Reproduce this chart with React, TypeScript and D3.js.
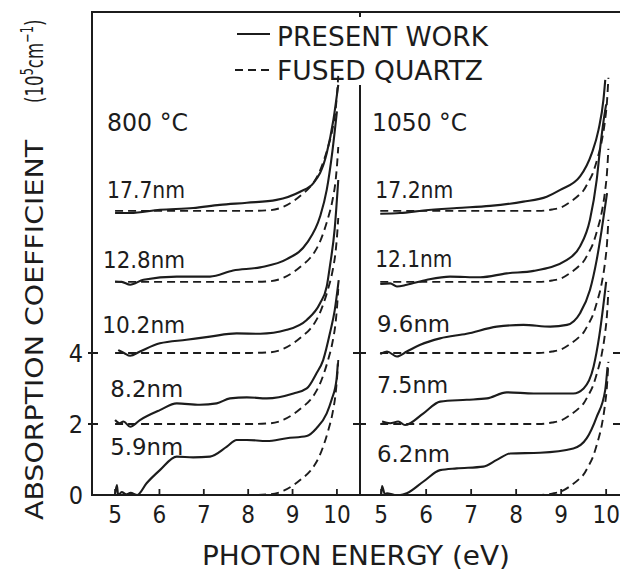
import { useEffect, useRef } from "react";
import * as d3 from "d3";

const FONT = "'Liberation Sans Narrow', 'DejaVu Sans Condensed', Roboto, sans-serif";
const INK = "#1c1c1c";

// vertical offset of each film's curve (10^5 cm^-1)
const offsets = [0, 2, 4, 6, 8];
const yTicks = [0, 2, 4];
const xTicks = [5, 6, 7, 8, 9, 10];

// 800 C panel
const leftLabels = ["5.9nm", "8.2nm", "10.2nm", "12.8nm", "17.7nm"];
const leftLabelE = [4.89, 4.89, 4.71, 4.73, 4.82];
const leftLabelV = [1.13, 2.76, 4.56, 6.39, 8.36];
const leftLabelW = [73, 73, 83, 82, 78];
const leftEnergy = [
  [5.0, 5.04, 5.07, 5.15, 5.25, 5.35, 5.5, 5.71, 6.01, 6.39, 6.76, 7.14, 7.52, 7.74, 7.97, 8.42, 8.87, 9.32, 9.54, 9.77, 9.88, 9.99, 10.02],
  [5.0, 5.1, 5.19, 5.34, 5.56, 6.01, 6.39, 6.91, 7.29, 7.59, 7.97, 8.42, 9.02, 9.32, 9.54, 9.69, 9.85, 9.95, 10.04],
  [5.07, 5.2, 5.34, 5.56, 6.01, 6.61, 7.14, 7.74, 8.27, 8.87, 9.32, 9.62, 9.77, 9.84, 9.95, 10.03],
  [5.0, 5.15, 5.34, 5.64, 6.39, 7.14, 7.66, 8.27, 8.87, 9.32, 9.62, 9.77, 9.9, 10.0],
  [5.0, 5.34, 6.01, 6.76, 7.36, 7.97, 8.64, 9.17, 9.47, 9.77, 9.92, 10.03],
];
const leftAbs = [
  [0, 0.28, 0, 0.08, 0.02, 0.06, 0, 0.33, 0.7, 1.08, 1.06, 1.08, 1.36, 1.55, 1.55, 1.52, 1.6, 1.66, 1.88, 2.3, 2.68, 3.24, 3.7],
  [0.11, 0.02, 0.07, -0.08, 0.11, 0.39, 0.58, 0.54, 0.58, 0.72, 0.75, 0.72, 0.86, 1.0, 1.43, 1.8, 2.6, 3.2, 4.05],
  [0.08, 0.0, -0.08, 0.04, 0.27, 0.37, 0.46, 0.55, 0.54, 0.65, 0.93, 1.4, 1.87, 2.43, 3.5, 4.87],
  [0.01, 0.0, -0.08, 0.06, 0.15, 0.15, 0.32, 0.41, 0.64, 1.09, 1.84, 2.59, 3.7, 4.8],
  [-0.06, -0.06, 0.03, 0.08, 0.17, 0.23, 0.31, 0.54, 0.78, 1.62, 2.56, 3.55],
];
const leftQuartzE = [5.0, 8.0, 8.5, 8.8, 9.0, 9.2, 9.4, 9.5, 9.6, 9.7, 9.8, 9.9, 9.97, 10.0, 10.03];
const leftQuartzV = [0, 0, 0.02, 0.12, 0.26, 0.45, 0.68, 0.85, 1.08, 1.4, 1.8, 2.3, 2.85, 3.25, 3.8];

// 1050 C panel
const rightLabels = ["6.2nm", "7.5nm", "9.6nm", "12.1nm", "17.2nm"];
const rightLabelE = [4.91, 4.91, 4.91, 4.87, 4.87];
const rightLabelV = [0.93, 2.87, 4.59, 6.42, 8.36];
const rightLabelW = [73, 71, 73, 77, 78];
const rightEnergy = [
  [5.0, 5.02, 5.08, 5.13, 5.3, 5.42, 5.57, 5.94, 6.31, 6.68, 7.27, 7.57, 7.87, 8.53, 9.27, 9.57, 9.79, 9.98, 10.03],
  [5.02, 5.2, 5.38, 5.53, 5.94, 6.31, 6.9, 7.35, 7.79, 8.39, 9.27, 9.5, 9.72, 9.85, 10.0],
  [4.98, 5.13, 5.35, 5.57, 5.87, 6.31, 6.9, 7.57, 8.16, 8.76, 9.13, 9.42, 9.64, 9.79, 9.9, 10.02],
  [4.98, 5.2, 5.35, 5.57, 6.02, 6.53, 7.2, 7.79, 8.39, 9.13, 9.42, 9.64, 9.79, 9.87, 9.95, 10.0],
  [4.98, 5.42, 5.94, 6.68, 7.42, 8.16, 8.68, 8.98, 9.42, 9.68, 9.83, 9.94, 9.98],
];
const rightAbs = [
  [0, 0.25, 0.03, 0.05, 0.0, 0.0, 0.05, 0.38, 0.7, 0.75, 0.8, 0.99, 1.17, 1.19, 1.31, 1.6, 2.2, 2.96, 3.6],
  [0.07, 0.02, 0.07, -0.03, 0.3, 0.63, 0.68, 0.72, 0.89, 0.86, 0.86, 1.0, 1.61, 2.5, 4.0],
  [-0.03, 0.04, -0.1, 0.04, 0.23, 0.41, 0.54, 0.74, 0.79, 0.74, 0.79, 1.12, 1.77, 2.62, 3.46, 4.5],
  [-0.06, -0.04, -0.13, -0.08, 0.06, 0.15, 0.13, 0.24, 0.31, 0.62, 1.0, 1.75, 2.87, 3.81, 4.6, 5.0],
  [-0.08, -0.06, 0.01, 0.08, 0.14, 0.26, 0.4, 0.59, 0.97, 1.62, 2.28, 3.13, 3.69],
];
const rightQuartzE = [4.98, 8.5, 8.8, 9.0, 9.2, 9.4, 9.5, 9.6, 9.7, 9.8, 9.9, 9.97, 10.02, 10.05];
const rightQuartzV = [0, 0, 0.04, 0.1, 0.25, 0.45, 0.58, 0.8, 1.05, 1.45, 1.95, 2.5, 3.1, 3.75];

const App = () => {
  const svgRef = useRef<SVGSVGElement>(null);

  useEffect(() => {
    const svg = d3.select(svgRef.current);
    svg.selectAll("*").remove();

    const y = d3.scaleLinear().domain([0, 13.6]).range([495, 12]);
    const xLeft = d3.scaleLinear().domain([4.48, 10.52]).range([92, 360]);
    const xRight = d3.scaleLinear().domain([4.53, 10.33]).range([360, 621]);

    const txt = (g, s, x, yy, size, len?, anchor = "start") => {
      const t = g
        .append("text")
        .attr("x", x)
        .attr("y", yy)
        .attr("font-size", size)
        .attr("font-family", FONT)
        .attr("fill", INK)
        .attr("text-anchor", anchor)
        .text(s);
      if (len) t.attr("textLength", len).attr("lengthAdjust", "spacingAndGlyphs");
      return t;
    };

    // frame
    const frame = svg.append("g").attr("fill", "none").attr("stroke", INK).attr("stroke-width", 2);
    frame.append("path").attr("d", `M92,${y(0)}V12H640`);
    frame.append("path").attr("d", `M91,${y(0)}H640`);
    frame.append("path").attr("d", `M360,${y(0)}V85M360,12V17`);
    frame.append("path").attr("d", `M621,12V${y(0)}`);

    // y ticks on frame, divider and right frame
    yTicks.filter((d) => d > 0).forEach((d) => {
      frame.append("path").attr("d", `M88,${y(d)}H98M353,${y(d)}H366M613,${y(d)}H628`);
    });

    yTicks.forEach((d) => {
      txt(svg, String(d), 83, y(d) + 9, 25, null, "end");
    });

    const panels = [
      { x: xLeft, energy: leftEnergy, abs: leftAbs, qE: leftQuartzE, qV: leftQuartzV,
        labels: leftLabels, lE: leftLabelE, lV: leftLabelV, lW: leftLabelW },
      { x: xRight, energy: rightEnergy, abs: rightAbs, qE: rightQuartzE, qV: rightQuartzV,
        labels: rightLabels, lE: rightLabelE, lV: rightLabelV, lW: rightLabelW },
    ];

    panels.forEach((p) => {
      const g = svg.append("g");
      // x ticks + labels
      xTicks.forEach((t) => {
        g.append("line")
          .attr("x1", p.x(t)).attr("x2", p.x(t))
          .attr("y1", y(0)).attr("y2", y(0) - 6)
          .attr("stroke", INK).attr("stroke-width", 1.8);
        txt(g, String(t), p.x(t), 523, 24, null, "middle");
      });

      const line = d3.line<[number, number]>()
        .x((d) => p.x(d[0]))
        .y((d) => y(d[1]))
        .curve(d3.curveMonotoneX);

      offsets.forEach((off, i) => {
        const quartz = p.qE.map((e, j) => [e, p.qV[j] + off] as [number, number]);
        g.append("path")
          .datum(quartz)
          .attr("fill", "none")
          .attr("stroke", INK)
          .attr("stroke-width", 1.9)
          .attr("stroke-dasharray", "8,5")
          .attr("d", line);

        const film = p.energy[i].map((e, j) => [e, p.abs[i][j] + off] as [number, number]);
        g.append("path")
          .datum(film)
          .attr("fill", "none")
          .attr("stroke", INK)
          .attr("stroke-width", 2.1)
          .attr("stroke-linejoin", "round")
          .attr("d", line);

        txt(g, p.labels[i], p.x(p.lE[i]), y(p.lV[i]), 23, p.lW[i]);
      });
    });

    // temperature labels
    txt(svg, "800 °C", 107, 131, 25, 81);
    txt(svg, "1050 °C", 372, 131, 25, 95);

    // legend
    svg.append("line").attr("x1", 237).attr("x2", 270).attr("y1", 34).attr("y2", 34)
      .attr("stroke", INK).attr("stroke-width", 2);
    svg.append("line").attr("x1", 235).attr("x2", 270).attr("y1", 70).attr("y2", 70)
      .attr("stroke", INK).attr("stroke-width", 2).attr("stroke-dasharray", "8,5");
    txt(svg, "PRESENT  WORK", 277, 46, 27, 211);
    txt(svg, "FUSED  QUARTZ", 277, 80, 26, 206);

    // axis titles
    txt(svg, "PHOTON  ENERGY  (eV)", 202, 565, 26, 308);
    txt(svg, "ABSORPTION  COEFFICIENT", 0, 0, 25, 380).attr("transform", "translate(43,520) rotate(-90)");
    const unit = txt(svg, "", 0, 0, 25).attr("transform", "translate(43,103) rotate(-90) scale(0.74,1)");
    unit.append("tspan").text("(10");
    unit.append("tspan").attr("dy", -10).attr("font-size", 17).text("5");
    unit.append("tspan").attr("dy", 10).text("cm");
    unit.append("tspan").attr("dy", -10).attr("font-size", 17).text("−1");
    unit.append("tspan").attr("dy", 10).text(")");
  }, []);

  return (
    <svg
      ref={svgRef}
      width={620}
      height={572}
      style={{ position: "absolute", left: 0, top: 0, background: "#fff" }}
    />
  );
};

export default App;
